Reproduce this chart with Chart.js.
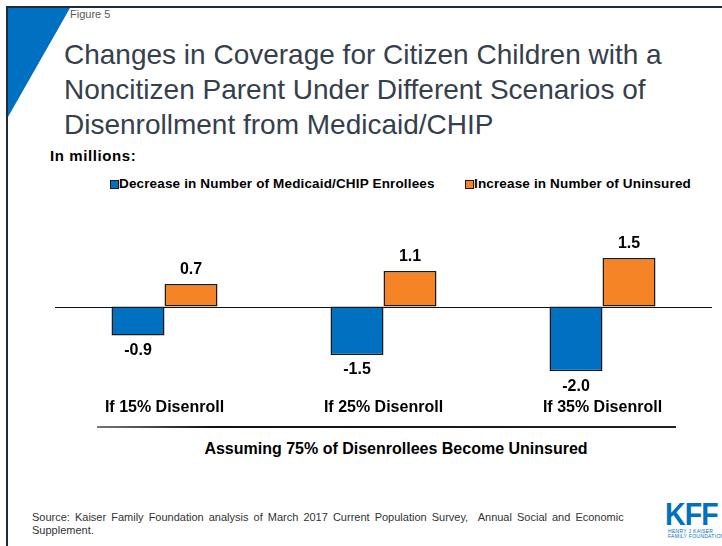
<!DOCTYPE html>
<html>
<head>
<meta charset="utf-8">
<script src="https://cdn.jsdelivr.net/npm/chart.js@4"></script>
<style>
  html, body { margin: 0; padding: 0; background: #fff; }
  body { width: 722px; height: 546px; position: relative; overflow: hidden;
         font-family: "Liberation Sans", Arial, sans-serif; }
  .abs { position: absolute; white-space: nowrap; }
  #frameTop { left: 6px; top: 6px; width: 716px; height: 2px; background: #1d2b3a; }
  #frameLeft { left: 6px; top: 6px; width: 2px; height: 540px; background: #1d2b3a; }
  #corner { left: 8px; top: 8px; width: 0; height: 0;
            border-top: 109px solid #0070c0; border-right: 62px solid transparent; }
  #fig { left: 70px; top: 7px; font-size: 11px; line-height: 14px; color: #595959; }
  #title { left: 64px; top: 37px; font-size: 28px; line-height: 35px; color: #36404d; }
  #unit { left: 50px; top: 147px; font-size: 15px; letter-spacing: 0.6px; font-weight: bold; color: #000; }
  .key { top: 176px; font-size: 13.5px; letter-spacing: 0.15px; line-height: 16px; font-weight: bold; color: #000; }
  .sw { position: absolute; top: 180px; width: 7px; height: 7px; border: 1px solid #1a1a1a; }
  #chartBox { left: 0; top: 229px; }
  #rule { left: 97px; top: 426px; width: 579px; height: 2px;
          background: linear-gradient(to right, #777, #111 20%, #222); }
  #axisNote { left: 0; width: 792px; top: 440px; text-align: center; font-size: 16px;
              font-weight: bold; color: #000; }
  #source { left: 32px; top: 511px; font-size: 11px; line-height: 13px; word-spacing: 2px;
            color: #333; white-space: normal; width: 640px; }
  #kff { left: 665px; top: 500px; font-size: 31px; line-height: 30px; font-weight: bold;
         color: #0070c0; letter-spacing: -1px; transform: scaleX(0.92); transform-origin: left top; }
  #kffSub { left: 668px; top: 529px; font-size: 5px; line-height: 5px; color: #0070c0; letter-spacing: 0.3px; }
</style>
</head>
<body>
<div class="abs" id="frameTop"></div>
<div class="abs" id="frameLeft"></div>
<div class="abs" id="corner"></div>
<div class="abs" id="fig">Figure 5</div>
<div class="abs" id="title">Changes in Coverage for Citizen Children with a<br>Noncitizen Parent Under Different Scenarios of<br>Disenrollment from Medicaid/CHIP</div>
<div class="abs" id="unit">In millions:</div>
<div class="sw" style="left:110px; background:#0070c0;"></div>
<div class="abs key" style="left:119px;">Decrease in Number of Medicaid/CHIP Enrollees</div>
<div class="sw" style="left:465px; background:#f58426;"></div>
<div class="abs key" style="left:474px;">Increase in Number of Uninsured</div>
<div class="abs" id="chartBox"><canvas id="myChart" width="722" height="194"></canvas></div>
<div class="abs" id="rule"></div>
<div class="abs" id="axisNote">Assuming 75% of Disenrollees Become Uninsured</div>
<div class="abs" id="source">Source: Kaiser Family Foundation analysis of March 2017 Current Population Survey,&nbsp; Annual Social and Economic Supplement.</div>
<div class="abs" id="kff">KFF</div>
<div class="abs" id="kffSub">HENRY J KAISER<br>FAMILY FOUNDATION</div>

<script>
const scenarios = ['If 15% Disenroll', 'If 25% Disenroll', 'If 35% Disenroll'];
const enrolleeDecrease = [-0.9, -1.5, -2.0];
const uninsuredIncrease = [0.7, 1.1, 1.5];

// horizontal line through zero
const zeroLine = {
    id: 'zeroLine',
    beforeDatasetsDraw(chart) {
        const { ctx, chartArea, scales } = chart;
        const y = Math.round(scales.y.getPixelForValue(0)) + 0.5;
        ctx.save();
        ctx.strokeStyle = '#111';
        ctx.lineWidth = 1.2;
        ctx.beginPath();
        ctx.moveTo(chartArea.left, y);
        ctx.lineTo(chartArea.right, y);
        ctx.stroke();
        ctx.restore();
    }
};

// value labels above positive bars, below negative ones
const valueLabels = {
    id: 'valueLabels',
    afterDatasetsDraw(chart) {
        const ctx = chart.ctx;
        ctx.save();
        ctx.font = 'bold 16px "Liberation Sans", Arial, sans-serif';
        ctx.fillStyle = '#000';
        ctx.textAlign = 'center';
        ctx.textBaseline = 'middle';
        chart.data.datasets.forEach((ds, i) => {
            chart.getDatasetMeta(i).data.forEach((bar, j) => {
                const v = ds.data[j];
                const y = v >= 0 ? bar.y - 14 : bar.y + 15;
                ctx.fillText(v.toFixed(1), bar.x, y);
            });
        });
        ctx.restore();
    }
};

const ctx = document.getElementById('myChart');
const myChart = new Chart(ctx, {
    type: 'bar',
    data: {
        labels: scenarios,
        datasets: [{
            label: 'Decrease in Number of Medicaid/CHIP Enrollees',
            data: enrolleeDecrease,
            backgroundColor: '#0070c0',
            borderColor: '#1a1a1a',
            borderWidth: 1.5,
            borderSkipped: false
        }, {
            label: 'Increase in Number of Uninsured',
            data: uninsuredIncrease,
            backgroundColor: '#f58426',
            borderColor: '#1a1a1a',
            borderWidth: 1.5,
            borderSkipped: false
        }]
    },
    options: {
        responsive: false,
        animation: false,
        layout: { padding: { left: 55, right: 10, top: 0, bottom: 0 } },
        datasets: { bar: { categoryPercentage: 0.484, barPercentage: 1.0 } },
        plugins: {
            legend: { display: false },
            tooltip: { enabled: false }
        },
        scales: {
            x: {
                grid: { display: false, drawTicks: false },
                border: { display: false },
                ticks: {
                    padding: 6,
                    color: '#000',
                    font: { family: '"Liberation Sans", Arial, sans-serif', size: 16, weight: 'bold' }
                }
            },
            y: {
                display: false,
                min: -2.64,
                max: 2.4
            }
        }
    },
    plugins: [zeroLine, valueLabels]
});
</script>
</body>
</html>
